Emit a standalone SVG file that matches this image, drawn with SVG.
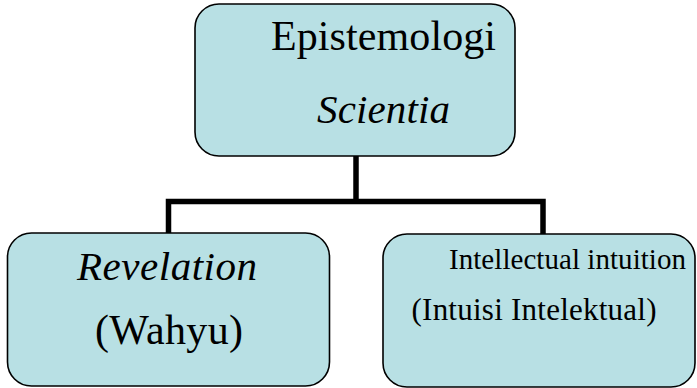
<svg xmlns="http://www.w3.org/2000/svg" width="697" height="388" viewBox="0 0 697 388">
<style>
.box{fill:#b8e0e4;stroke:#000;stroke-width:1.6}
.conn{fill:none;stroke:#000;stroke-width:5.5}
.t{font-family:'Liberation Serif','Times New Roman',Times,serif;fill:#000}
.it{font-style:italic}
</style>
<rect width="697" height="388" fill="#fff"/>
<g id="connectors">
<path class="conn" d="M356 156 V201.5"/>
<path class="conn" d="M168.5 233 V201.5 H543 V234"/>
</g>
<g id="node-epistemologi">
<rect class="box" x="195" y="4" width="320" height="152" rx="24"/>
<text class="t" x="271" y="50" font-size="42" textLength="225">Epistemologi</text>
<text class="t it" x="317" y="123" font-size="41" textLength="133">Scientia</text>
</g>
<g id="node-revelation">
<rect class="box" x="7.5" y="233" width="322" height="153" rx="24"/>
<text class="t it" x="77" y="280" font-size="41" textLength="180">Revelation</text>
<text class="t" x="95" y="344" font-size="42" textLength="148">(Wahyu)</text>
</g>
<g id="node-intuition">
<rect class="box" x="383" y="234" width="312" height="153" rx="24"/>
<text class="t" x="449" y="269" font-size="29" textLength="237">Intellectual intuition</text>
<text class="t" x="411.5" y="320" font-size="31" textLength="245">(Intuisi Intelektual)</text>
</g>
</svg>
